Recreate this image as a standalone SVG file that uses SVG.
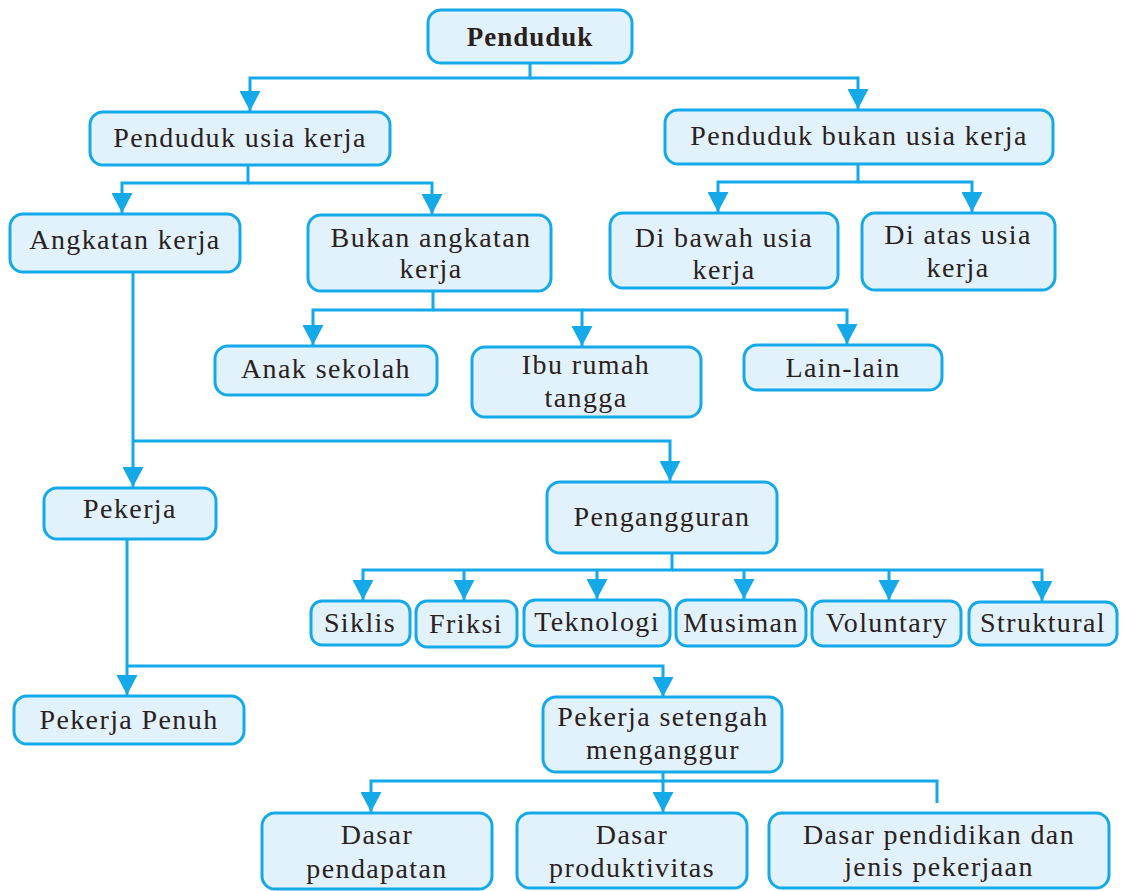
<svg xmlns="http://www.w3.org/2000/svg" width="1124" height="891" viewBox="0 0 1124 891">
<style>
.box{fill:#e1f2fc;stroke:#14a9e9;stroke-width:3}
.t{font-family:"Liberation Serif","Times New Roman",serif;font-size:28px;fill:#2b211c;text-anchor:middle;letter-spacing:1.4px}
.b{font-weight:bold;font-size:27px;letter-spacing:1px}
.c{fill:none;stroke:#14a9e9;stroke-width:3}
</style>
<defs>
<marker id="ah" viewBox="0 0 20 21" refX="20" refY="10.5" markerWidth="20" markerHeight="21" markerUnits="userSpaceOnUse" orient="auto">
<path d="M0,0 L20,10.5 L0,21 Z" fill="#14a9e9"/>
</marker>
</defs>
<rect width="1124" height="891" fill="#ffffff"/>
<g id="connectors">
<path class="c" marker-end="url(#ah)" d="M530,63 V78 H250 V111"/>
<path class="c" marker-end="url(#ah)" d="M530,78 H858 V109"/>
<path class="c" marker-end="url(#ah)" d="M248,165 V183 H122 V213"/>
<path class="c" marker-end="url(#ah)" d="M248,183 H432 V214"/>
<path class="c" marker-end="url(#ah)" d="M858,164 V182 H718 V212"/>
<path class="c" marker-end="url(#ah)" d="M858,182 H972 V212"/>
<path class="c" marker-end="url(#ah)" d="M433,291 V310 H313 V345"/>
<path class="c" marker-end="url(#ah)" d="M433,310 H582 V346"/>
<path class="c" marker-end="url(#ah)" d="M582,310 H847 V344"/>
<path class="c" marker-end="url(#ah)" d="M133,272 V487"/>
<path class="c" marker-end="url(#ah)" d="M133,441 H670 V481"/>
<path class="c" marker-end="url(#ah)" d="M672,553 V570 H363 V600"/>
<path class="c" marker-end="url(#ah)" d="M464,570 V600"/>
<path class="c" marker-end="url(#ah)" d="M597,570 V599"/>
<path class="c" marker-end="url(#ah)" d="M744,570 V599"/>
<path class="c" marker-end="url(#ah)" d="M889,570 V600"/>
<path class="c" marker-end="url(#ah)" d="M672,570 H1042 V601"/>
<path class="c" marker-end="url(#ah)" d="M127,538 V695"/>
<path class="c" marker-end="url(#ah)" d="M127,666 H663 V697"/>
<path class="c" marker-end="url(#ah)" d="M663,772 V781 H371 V812"/>
<path class="c" marker-end="url(#ah)" d="M663,781 V812"/>
<path class="c" d="M663,781 H937 V803"/>
</g>
<g id="n-penduduk"><rect class="box" x="428" y="10" width="204" height="53" rx="13"/><text class="t b" x="530" y="46">Penduduk</text></g>
<g id="n-usia-kerja"><rect class="box" x="90" y="112" width="300" height="53" rx="13"/><text class="t" x="240" y="147">Penduduk usia kerja</text></g>
<g id="n-bukan-usia-kerja"><rect class="box" x="665" y="110" width="388" height="54" rx="13"/><text class="t" x="859" y="145">Penduduk bukan usia kerja</text></g>
<g id="n-angkatan-kerja"><rect class="box" x="10" y="214" width="230" height="58" rx="13"/><text class="t" x="125" y="249">Angkatan kerja</text></g>
<g id="n-bukan-angkatan"><rect class="box" x="308" y="215" width="243" height="76" rx="13"/><text class="t" x="431" y="247">Bukan angkatan</text><text class="t" x="431" y="278">kerja</text></g>
<g id="n-di-bawah"><rect class="box" x="610" y="213" width="228" height="75" rx="13"/><text class="t" x="724" y="247">Di bawah usia</text><text class="t" x="724" y="279">kerja</text></g>
<g id="n-di-atas"><rect class="box" x="862" y="213" width="193" height="77" rx="13"/><text class="t" x="958" y="244">Di atas usia</text><text class="t" x="958" y="277">kerja</text></g>
<g id="n-anak-sekolah"><rect class="box" x="215" y="346" width="222" height="49" rx="13"/><text class="t" x="326" y="378">Anak sekolah</text></g>
<g id="n-ibu-rumah"><rect class="box" x="472" y="347" width="229" height="70" rx="13"/><text class="t" x="586" y="374">Ibu rumah</text><text class="t" x="586" y="407">tangga</text></g>
<g id="n-lain-lain"><rect class="box" x="744" y="345" width="198" height="45" rx="13"/><text class="t" x="843" y="377">Lain-lain</text></g>
<g id="n-pekerja"><rect class="box" x="44" y="488" width="172" height="51" rx="13"/><text class="t" x="130" y="518">Pekerja</text></g>
<g id="n-pengangguran"><rect class="box" x="547" y="482" width="230" height="71" rx="13"/><text class="t" x="662" y="526">Pengangguran</text></g>
<g id="n-siklis"><rect class="box" x="311" y="601" width="99" height="44" rx="11"/><text class="t" x="360" y="632">Siklis</text></g>
<g id="n-friksi"><rect class="box" x="416" y="601" width="101" height="46" rx="11"/><text class="t" x="466" y="633">Friksi</text></g>
<g id="n-teknologi"><rect class="box" x="524" y="600" width="146" height="46" rx="11"/><text class="t" x="597" y="631">Teknologi</text></g>
<g id="n-musiman"><rect class="box" x="676" y="600" width="130" height="46" rx="11"/><text class="t" x="741" y="632">Musiman</text></g>
<g id="n-voluntary"><rect class="box" x="812" y="601" width="149" height="45" rx="11"/><text class="t" x="887" y="632">Voluntary</text></g>
<g id="n-struktural"><rect class="box" x="969" y="602" width="148" height="43" rx="11"/><text class="t" x="1043" y="632">Struktural</text></g>
<g id="n-pekerja-penuh"><rect class="box" x="14" y="696" width="230" height="48" rx="13"/><text class="t" x="129" y="729">Pekerja Penuh</text></g>
<g id="n-setengah"><rect class="box" x="543" y="697" width="239" height="75" rx="13"/><text class="t" x="663" y="726">Pekerja setengah</text><text class="t" x="663" y="759">menganggur</text></g>
<g id="n-pendapatan"><rect class="box" x="262" y="813" width="230" height="76" rx="13"/><text class="t" x="377" y="844">Dasar</text><text class="t" x="377" y="878">pendapatan</text></g>
<g id="n-produktivitas"><rect class="box" x="517" y="813" width="230" height="75" rx="13"/><text class="t" x="632" y="844">Dasar</text><text class="t" x="632" y="877">produktivitas</text></g>
<g id="n-pendidikan"><rect class="box" x="769" y="813" width="340" height="75" rx="13"/><text class="t" x="939" y="844">Dasar pendidikan dan</text><text class="t" x="939" y="876">jenis pekerjaan</text></g>
</svg>
